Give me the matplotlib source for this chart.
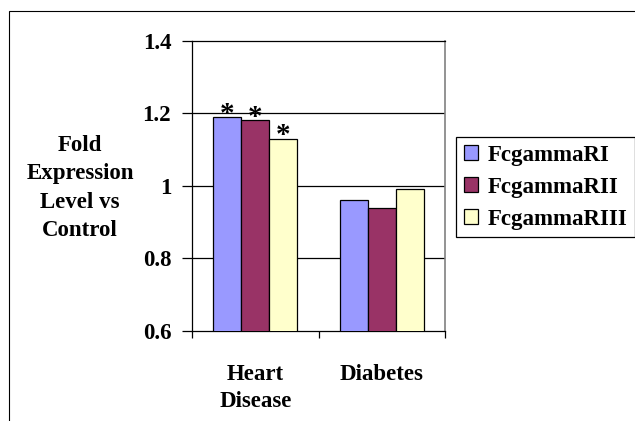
import matplotlib
matplotlib.use("Agg")
import matplotlib.pyplot as plt
from matplotlib.patches import Rectangle
import numpy as np

categories = ["Heart\nDisease", "Diabetes"]
series_names = ["FcgammaRI", "FcgammaRII", "FcgammaRIII"]
values = {
    "FcgammaRI": [1.19, 0.96],
    "FcgammaRII": [1.18, 0.94],
    "FcgammaRIII": [1.13, 0.99],
}
significant = {
    "FcgammaRI": [True, False],
    "FcgammaRII": [True, False],
    "FcgammaRIII": [True, False],
}
colors = ["#9999FF", "#993366", "#FFFFCC"]
yticks = [0.6, 0.8, 1.0, 1.2, 1.4]
ytick_labels = ["0.6", "0.8", "1", "1.2", "1.4"]

W, H = 635, 421
plt.rcParams['font.family'] = ['Liberation Serif', 'DejaVu Serif']
plt.rcParams['font.weight'] = 'bold'
FS = 16.5

fig = plt.figure(figsize=(W / 100, H / 100), dpi=100)
fig.patches.append(Rectangle((9 / W, -0.1), 1.2, (H - 11) / H + 0.1,
                             transform=fig.transFigure, fill=False,
                             edgecolor='black', linewidth=0.8))

ax = fig.add_axes([192 / W, (H - 331) / H, (445 - 192) / W, (331 - 40.5) / H])
x = np.arange(len(categories))
bw = 0.222
for i, name in enumerate(series_names):
    xs = x + (i - 1) * bw
    ax.bar(xs, values[name], width=bw, color=colors[i], edgecolor='black',
           linewidth=0.9, zorder=3, label=name)
    for xi, v, s in zip(xs, values[name], significant[name]):
        if s:
            ax.annotate("*", (xi, v), xytext=(0, -3.5), textcoords='offset points',
                        ha='center', va='baseline', fontsize=21, fontweight='bold',
                        zorder=4)

ax.set_ylim(0.6, 1.4)
ax.set_xlim(-0.5, 1.5)
ax.set_yticks(yticks)
ax.set_yticklabels(ytick_labels, fontsize=FS, fontweight='bold')
for g in [0.8, 1.0, 1.2]:
    ax.axhline(g, color='black', linewidth=0.9, zorder=1)

ax.set_xticks([-0.5, 0.5, 1.5])
ax.set_xticklabels([])
ax.set_xticks(x, minor=True)
ax.set_xticklabels(categories, minor=True, fontsize=FS, fontweight='bold',
                   linespacing=1.4)
ax.tick_params(axis='x', which='minor', length=0, pad=23.5)
ax.tick_params(axis='x', which='major', length=5, width=0.9, direction='out')
ax.tick_params(axis='y', length=7, width=0.9, direction='out', pad=8)

for s in ['left', 'bottom', 'top']:
    ax.spines[s].set_color('black')
    ax.spines[s].set_linewidth(0.9)
ax.spines['right'].set_color('#808080')
ax.spines['right'].set_linewidth(1.2)

fig.text(80 / W, 1 - 188 / H, "Fold\nExpression\nLevel vs\nControl",
         ha='center', va='center', fontsize=FS, fontweight='bold',
         linespacing=1.47)

leg = ax.legend(loc='upper left', bbox_to_anchor=(456 / W, 1 - 137 / H),
                bbox_transform=fig.transFigure, frameon=True, fancybox=False,
                edgecolor='black', framealpha=1,
                prop={'weight': 'bold', 'size': FS},
                handlelength=0.65, handleheight=0.65, handletextpad=0.4,
                labelspacing=0.48, borderpad=0.33, borderaxespad=0)
leg.get_frame().set_linewidth(0.9)

fig.savefig("out.png", dpi=100)
